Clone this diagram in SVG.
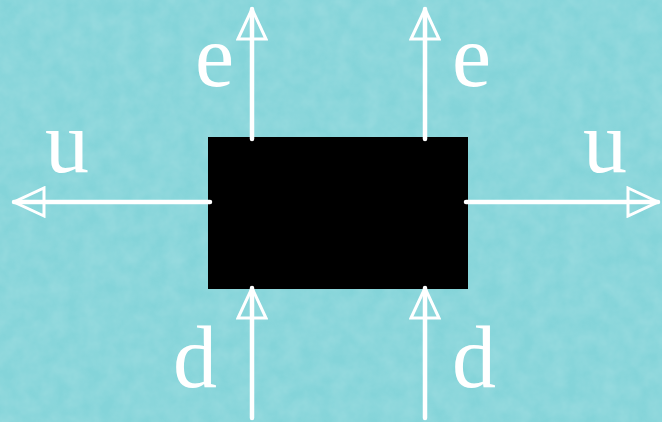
<svg xmlns="http://www.w3.org/2000/svg" width="662" height="422" viewBox="0 0 662 422">
<defs>
<filter id="tex" x="0" y="0" width="100%" height="100%">
<feTurbulence type="fractalNoise" baseFrequency="0.06" numOctaves="3" seed="4" result="n"/>
<feColorMatrix in="n" type="matrix" values="0 0 0 0 1  0 0 0 0 1  0 0 0 0 1  0 0 0 0.5 -0.1"/>
</filter>
<marker id="ah" viewBox="0 0 34 32" refX="32" refY="16" markerWidth="34" markerHeight="32" markerUnits="userSpaceOnUse" orient="auto">
<path d="M2,2 L32,16 L2,30 Z" fill="none" stroke="#fff" stroke-width="3" stroke-linejoin="miter"/>
</marker>
<style>
.ln{stroke:#fff;stroke-width:4.5;fill:none;stroke-linecap:round;marker-end:url(#ah)}
.lb{font-size:88px;fill:#fff}
</style>
</defs>
<rect width="662" height="422" fill="#84d4d9"/>
<rect width="662" height="422" filter="url(#tex)" opacity="0.4"/>
<g id="block"><rect x="208" y="137" width="260" height="152" fill="#000"/></g>
<g id="connectors">
<line class="ln" x1="252" y1="139" x2="252" y2="9"/>
<line class="ln" x1="425" y1="139" x2="425" y2="9"/>
<line class="ln" x1="210" y1="202" x2="14" y2="202"/>
<line class="ln" x1="466" y1="202" x2="658" y2="202"/>
<line class="ln" x1="252" y1="418" x2="252" y2="288"/>
<line class="ln" x1="425" y1="418" x2="425" y2="288"/>
</g>
<g id="labels" font-family="'Times New Roman', 'Liberation Serif', serif">
<text class="lb" x="195" y="86">e</text>
<text class="lb" x="452" y="86">e</text>
<text class="lb" x="45" y="172">u</text>
<text class="lb" x="583" y="172">u</text>
<text class="lb" x="173" y="387">d</text>
<text class="lb" x="452" y="387">d</text>
</g>
</svg>
